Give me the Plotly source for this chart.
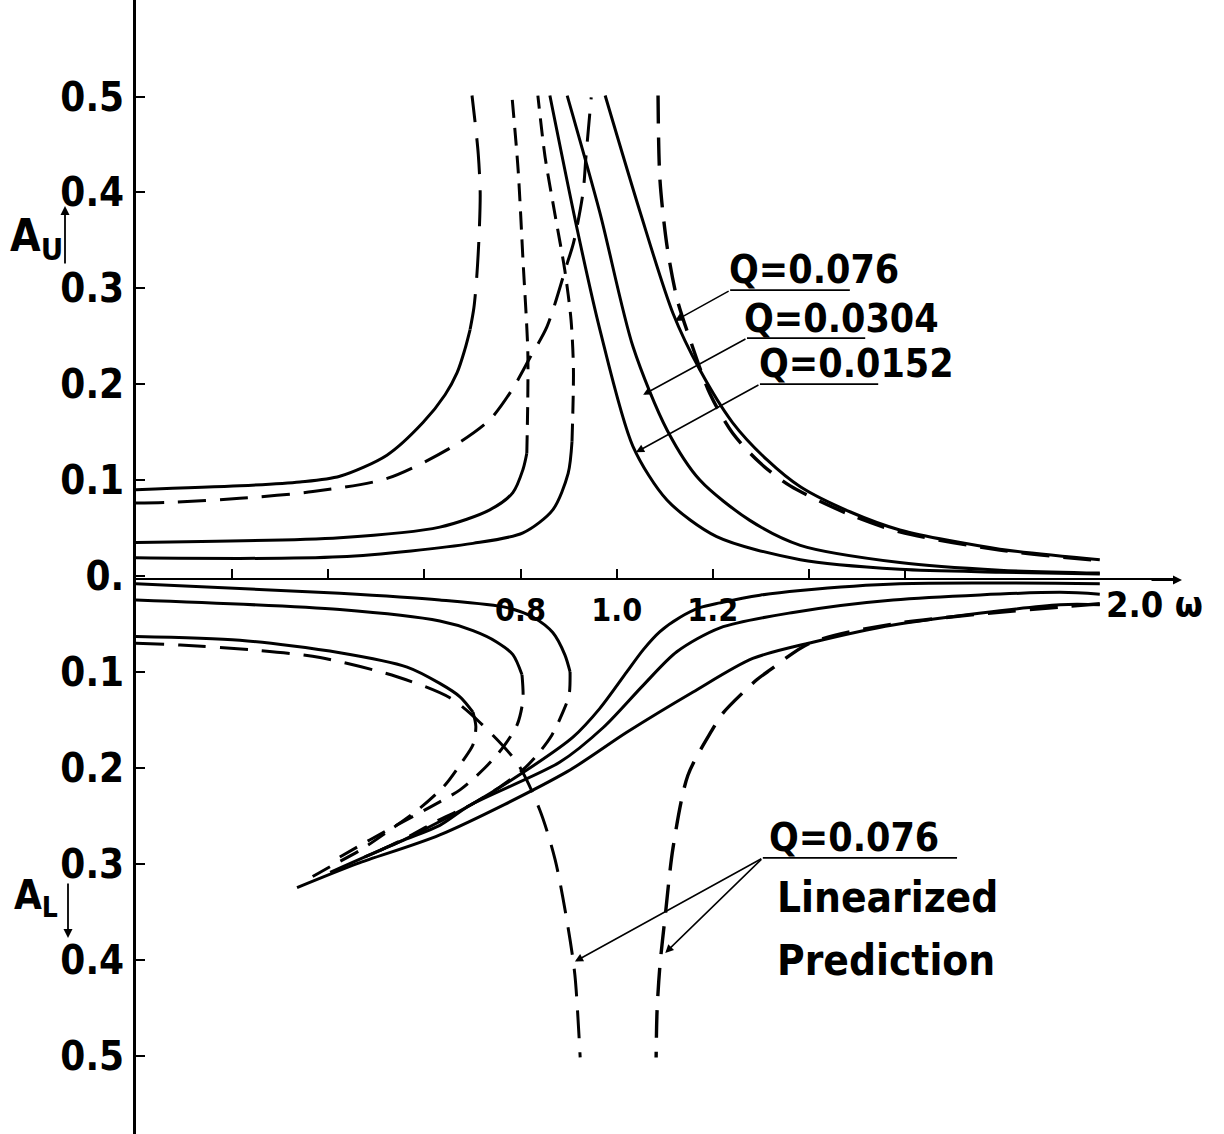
import plotly.graph_objects as go

# ---------------------------------------------------------------
# Frequency-response branches: omega vs amplitude.
# Upper response A_U is plotted upward, lower response A_L downward
# (A_L values are stored as magnitudes).
# ---------------------------------------------------------------

# Upper response, left (softening) branches
w_u076 = [0.000, 0.216, 0.341, 0.424, 0.522, 0.597, 0.643, 0.668, 0.684, 0.695]
a_u076 = [0.090, 0.094, 0.098, 0.104, 0.126, 0.160, 0.189, 0.212, 0.236, 0.257]
w_u076_top = [0.695, 0.703, 0.709, 0.714, 0.716, 0.712, 0.705, 0.699]
a_u076_top = [0.257, 0.280, 0.313, 0.358, 0.400, 0.440, 0.475, 0.501]

w_u0304 = [0.000, 0.424, 0.632, 0.736, 0.784, 0.805, 0.813]
a_u0304 = [0.035, 0.040, 0.051, 0.069, 0.087, 0.111, 0.128]
w_u0304_top = [0.813, 0.815, 0.815, 0.805, 0.795, 0.782]
a_u0304_top = [0.128, 0.184, 0.236, 0.330, 0.423, 0.501]

w_u0152 = [0.000, 0.424, 0.701, 0.805, 0.867, 0.899, 0.907]
a_u0152 = [0.019, 0.020, 0.034, 0.045, 0.069, 0.107, 0.140]
w_u0152_top = [0.907, 0.910, 0.905, 0.892, 0.872, 0.851, 0.836]
a_u0152_top = [0.140, 0.215, 0.267, 0.319, 0.376, 0.437, 0.501]

# Upper response, linearized prediction Q=0.076 (left branch)
w_u076_lin = [0.000, 0.077, 0.216, 0.368, 0.524, 0.659, 0.736, 0.782, 0.820,
              0.855, 0.897, 0.910, 0.930, 0.936, 0.947]
a_u076_lin = [0.076, 0.077, 0.081, 0.088, 0.102, 0.135, 0.163, 0.194, 0.228,
              0.260, 0.326, 0.347, 0.400, 0.437, 0.499]

# Upper response, right branches
w_r0152 = [0.861, 0.918, 0.965, 1.034, 1.105, 1.208, 1.382, 1.589, 1.797, 2.005]
a_r0152 = [0.501, 0.361, 0.257, 0.135, 0.079, 0.041, 0.017, 0.007, 0.004, 0.002]
w_r0304 = [0.897, 0.965, 1.034, 1.105, 1.173, 1.277, 1.382, 1.589, 1.797, 2.005]
a_r0304 = [0.501, 0.379, 0.239, 0.152, 0.100, 0.058, 0.032, 0.014, 0.006, 0.003]
w_r076 = [0.976, 1.049, 1.117, 1.173, 1.241, 1.313, 1.382, 1.485, 1.589, 1.797, 2.005]
a_r076 = [0.501, 0.379, 0.274, 0.215, 0.160, 0.121, 0.093, 0.067, 0.048, 0.028, 0.017]
w_r076_lin = [1.086, 1.090, 1.105, 1.126, 1.153, 1.194, 1.241, 1.298, 1.361,
              1.485, 1.589, 1.797, 2.005]
a_r076_lin = [0.501, 0.413, 0.343, 0.288, 0.246, 0.190, 0.149, 0.118, 0.094,
              0.064, 0.046, 0.027, 0.016]

# Lower response, left branches (solid) and their unstable continuations
w_l0152 = [0.000, 0.424, 0.632, 0.772, 0.826, 0.867, 0.892, 0.903]
a_l0152 = [0.008, 0.018, 0.025, 0.033, 0.043, 0.059, 0.082, 0.100]
w_l0152_dash = [0.903, 0.901, 0.888, 0.865, 0.834, 0.805, 0.757, 0.695, 0.632, 0.570, 0.508]
a_l0152_dash = [0.100, 0.124, 0.142, 0.166, 0.187, 0.202, 0.220, 0.239, 0.254, 0.271, 0.286]

w_l0304 = [0.000, 0.424, 0.632, 0.701, 0.751, 0.784, 0.803]
a_l0304 = [0.025, 0.035, 0.047, 0.057, 0.069, 0.082, 0.103]
w_l0304_dash = [0.803, 0.805, 0.793, 0.763, 0.726, 0.674, 0.612, 0.549, 0.487, 0.424]
a_l0304_dash = [0.103, 0.129, 0.155, 0.179, 0.200, 0.223, 0.241, 0.258, 0.275, 0.293]

w_l076 = [0.000, 0.216, 0.424, 0.564, 0.632, 0.674, 0.701]
a_l076 = [0.063, 0.067, 0.080, 0.095, 0.112, 0.126, 0.142]
w_l076_dash = [0.701, 0.707, 0.701, 0.678, 0.643, 0.591, 0.528, 0.466, 0.404, 0.362]
a_l076_dash = [0.142, 0.157, 0.176, 0.194, 0.218, 0.242, 0.265, 0.286, 0.303, 0.315]

# Lower response, linearized prediction Q=0.076
w_l076_lin = [0.000, 0.092, 0.243, 0.383, 0.543, 0.653, 0.716, 0.793, 0.840,
              0.872, 0.899, 0.913, 0.924]
a_l076_lin = [0.070, 0.072, 0.077, 0.085, 0.105, 0.127, 0.153, 0.195, 0.244,
              0.296, 0.367, 0.416, 0.502]
w_lr076_lin = [2.005, 1.575, 1.402, 1.319, 1.292, 1.221, 1.198, 1.148, 1.117,
               1.101, 1.090, 1.084, 1.082]
a_lr076_lin = [0.029, 0.050, 0.070, 0.098, 0.108, 0.143, 0.161, 0.208, 0.284,
               0.354, 0.406, 0.453, 0.502]

# Lower response, right branches
w_lr0152 = [2.005, 1.589, 1.382, 1.298, 1.215, 1.173, 1.132, 1.090, 1.055,
            1.021, 0.965, 0.909, 0.805, 0.695, 0.632, 0.549, 0.476]
a_lr0152 = [0.008, 0.008, 0.015, 0.020, 0.028, 0.033, 0.043, 0.058, 0.077,
            0.100, 0.138, 0.168, 0.205, 0.239, 0.256, 0.277, 0.293]
w_lr0304 = [2.005, 1.922, 1.575, 1.367, 1.215, 1.125, 1.055, 0.972, 0.882,
            0.695, 0.632, 0.549, 0.404]
a_lr0304 = [0.019, 0.017, 0.025, 0.038, 0.054, 0.079, 0.114, 0.158, 0.194,
            0.239, 0.260, 0.277, 0.309]
w_lr076 = [2.005, 1.922, 1.575, 1.408, 1.283, 1.159, 1.021, 0.897,
           0.632, 0.460, 0.335]
a_lr076 = [0.030, 0.030, 0.051, 0.069, 0.086, 0.121, 0.163, 0.204,
           0.270, 0.300, 0.325]

# Axis ticks
x_ticks = [0.2, 0.4, 0.6, 0.8, 1.0, 1.2, 1.4, 1.6]
x_tick_text = ["", "", "", "0.8", "1.0", "1.2", "", ""]
y_ticks = [0.5, 0.4, 0.3, 0.2, 0.1, 0.0, -0.1, -0.2, -0.3, -0.4, -0.5]
y_tick_text = ["0.5", "0.4", "0.3", "0.2", "0.1", "0.", "0.1", "0.2", "0.3", "0.4", "0.5"]

W, H = 1224, 1134
FONT = "DejaVu Sans Condensed, DejaVu Sans, sans-serif"

SOLID = None
LONG = "28px,14px"
TOPLONG = "36px,16px"
SHORT = "18px,10px"
MID = "20px,12px"

fig = go.Figure()


def branch(w, a, dash=SOLID, width=3.0, lower=False):
    y = [-v for v in a] if lower else list(a)
    line = dict(color="black", width=width, shape="spline", smoothing=0.8)
    if dash:
        line["dash"] = dash
    fig.add_trace(go.Scatter(x=w, y=y, mode="lines", line=line,
                             hoverinfo="skip", showlegend=False))


# upper response
branch(w_u076, a_u076)
branch(w_u076_top, a_u076_top, TOPLONG)
branch(w_u0304, a_u0304)
branch(w_u0304_top, a_u0304_top, SHORT)
branch(w_u0152, a_u0152)
branch(w_u0152_top, a_u0152_top, SHORT)
branch(w_u076_lin, a_u076_lin, LONG)
branch(w_r0152, a_r0152)
branch(w_r0304, a_r0304)
branch(w_r076, a_r076)
branch(w_r076_lin, a_r076_lin, LONG, width=3.4)

# lower response
branch(w_l0152, a_l0152, lower=True)
branch(w_l0152_dash, a_l0152_dash, MID, lower=True)
branch(w_l0304, a_l0304, lower=True)
branch(w_l0304_dash, a_l0304_dash, MID, lower=True)
branch(w_l076, a_l076, lower=True)
branch(w_l076_dash, a_l076_dash, MID, lower=True)
branch(w_l076_lin, a_l076_lin, LONG, lower=True)
branch(w_lr0152, a_lr0152, lower=True)
branch(w_lr0304, a_lr0304, lower=True)
branch(w_lr076, a_lr076, lower=True)
branch(w_lr076_lin, a_lr076_lin, LONG, width=3.4, lower=True)


def px(x):
    return x / W


def py(y):
    return 1 - y / H


annotations = []


def text(x, y, s, size, bold=True, xref="x", yref="y", xanchor="left"):
    annotations.append(dict(
        x=x, y=y, xref=xref, yref=yref, text=s, showarrow=False,
        xanchor=xanchor, yanchor="middle",
        font=dict(family=FONT, size=size, color="black",
                  weight="bold" if bold else "normal")))


def leader(x_tip, y_tip, x_tail, y_tail, width=1.5, head=2):
    annotations.append(dict(
        x=x_tip, y=y_tip, ax=x_tail, ay=y_tail, xref="x", yref="y",
        axref="x", ayref="y", text="", showarrow=True, arrowhead=head,
        arrowsize=1.1, arrowwidth=width, arrowcolor="black", standoff=0))


# curve labels with underlines and leaders
text(1.229, 0.320, "Q=0.076", 39)
text(1.261, 0.269, "Q=0.0304", 39)
text(1.292, 0.222, "Q=0.0152", 39)
text(1.313, -0.273, "Q=0.076", 39)
text(1.329, -0.335, "Linearized", 42)
text(1.329, -0.401, "Prediction", 42)

shapes = []
for x0, x1, yy in [(1.236, 1.485, 0.298), (1.271, 1.517, 0.248),
                   (1.298, 1.544, 0.200), (1.304, 1.708, -0.294)]:
    shapes.append(dict(type="line", xref="x", yref="y", x0=x0, x1=x1, y0=yy, y1=yy,
                       line=dict(color="black", width=1.8)))

leader(1.121, 0.266, 1.236, 0.298)
leader(1.055, 0.189, 1.271, 0.248)
leader(1.040, 0.129, 1.298, 0.200)
leader(0.913, -0.402, 1.304, -0.294)
leader(1.101, -0.393, 1.304, -0.294)

# axis titles
text(px(8), py(238), "A<sub>U</sub>", 44, xref="paper", yref="paper")
text(px(12), py(898), "A<sub>L</sub>", 40, xref="paper", yref="paper")
text(px(1104), py(604), "2.0 ω", 36, xref="paper", yref="paper")
# arrows: tail (x0, y0) -> head (x1, y1), in pixels
for (x0, y0, x1, y1) in [(65, 265, 65, 206), (68, 882, 68, 938), (1150, 580, 1182, 580)]:
    annotations.append(dict(
        x=px(x1), y=py(y1), ax=x0 - x1, ay=y0 - y1, xref="paper", yref="paper",
        text="", showarrow=True, arrowhead=2,
        arrowsize=1.0, arrowwidth=1.8, arrowcolor="black", standoff=0))

x0_px, x1_px = 136, 1178
w_per_px = 1 / 480.7
a_per_px = 1 / 959.0
zero_px = 576

fig.update_layout(
    width=W, height=H,
    margin=dict(l=0, r=0, t=0, b=0),
    paper_bgcolor="white", plot_bgcolor="white",
    showlegend=False,
    annotations=annotations,
    shapes=shapes,
    xaxis=dict(
        domain=[x0_px / W, x1_px / W],
        range=[0, (x1_px - x0_px) * w_per_px],
        anchor="free", position=1 - 579 / H,
        showline=True, linecolor="black", linewidth=2.2,
        ticks="inside", ticklen=9, tickwidth=2, tickcolor="black",
        tickvals=x_ticks, ticktext=x_tick_text,
        tickfont=dict(family=FONT, size=32, color="black", weight="bold"),
        ticklabelstandoff=2,
        showgrid=False, zeroline=False, automargin=False, fixedrange=True,
    ),
    yaxis=dict(
        domain=[0, 1],
        range=[(zero_px - H) * a_per_px, zero_px * a_per_px],
        anchor="x", side="left",
        showline=True, linecolor="black", linewidth=2.8,
        ticks="inside", ticklen=9, tickwidth=2, tickcolor="black",
        tickvals=y_ticks, ticktext=y_tick_text,
        tickfont=dict(family=FONT, size=40, color="black", weight="bold"),
        ticklabelstandoff=1,
        showgrid=False, zeroline=False, automargin=False, fixedrange=True,
    ),
)

fig.write_html("out.html", config={"displayModeBar": False})
